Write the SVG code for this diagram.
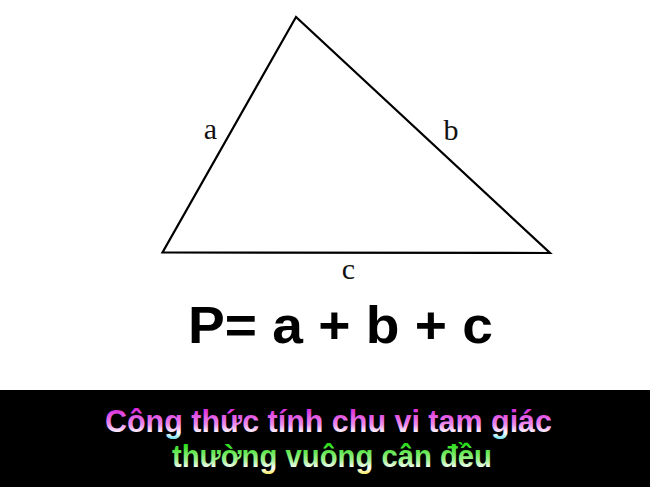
<svg xmlns="http://www.w3.org/2000/svg" width="650" height="487" viewBox="0 0 650 487">
<style>
.lbl{font-family:"Liberation Serif",serif;font-size:30px;fill:#111;text-anchor:middle}
.formula{font-family:"Liberation Sans",Arial,sans-serif;font-weight:bold;font-size:52px;fill:#000;text-anchor:middle}
.cap{font-family:"Liberation Sans",Arial,sans-serif;font-weight:bold;font-size:31px;text-anchor:middle}
</style>
<defs>
<linearGradient id="g1" gradientUnits="userSpaceOnUse" x1="0" y1="407" x2="0" y2="442">
<stop offset="0" stop-color="#d81ed8"/>
<stop offset="0.5" stop-color="#ec8cec"/>
<stop offset="0.74" stop-color="#ffffff"/>
<stop offset="1" stop-color="#28d4ec"/>
</linearGradient>
<linearGradient id="g2" gradientUnits="userSpaceOnUse" x1="0" y1="443" x2="0" y2="477">
<stop offset="0" stop-color="#22dc10"/>
<stop offset="0.5" stop-color="#a0f090"/>
<stop offset="0.74" stop-color="#ffffff"/>
<stop offset="1" stop-color="#f0dc10"/>
</linearGradient>
</defs>
<rect width="650" height="487" fill="#fff"/>
<g id="triangle">
<polygon points="296,17 162.5,252.5 550,253" fill="none" stroke="#000" stroke-width="2.2" stroke-linejoin="miter"/>
</g>
<g id="labels">
<text class="lbl" x="210.5" y="139">a</text>
<text class="lbl" x="451" y="140">b</text>
<text class="lbl" x="348.5" y="279">c</text>
</g>
<text class="formula" x="340.5" y="343" textLength="305" lengthAdjust="spacingAndGlyphs">P= a + b + c</text>
<rect x="0" y="390" width="650" height="97" fill="#000"/>
<text class="cap" x="328.5" y="432" fill="url(#g1)" textLength="447" lengthAdjust="spacingAndGlyphs">Công thức tính chu vi tam giác</text>
<text class="cap" x="332" y="467" fill="url(#g2)" textLength="320" lengthAdjust="spacingAndGlyphs">thường vuông cân đều</text>
</svg>
